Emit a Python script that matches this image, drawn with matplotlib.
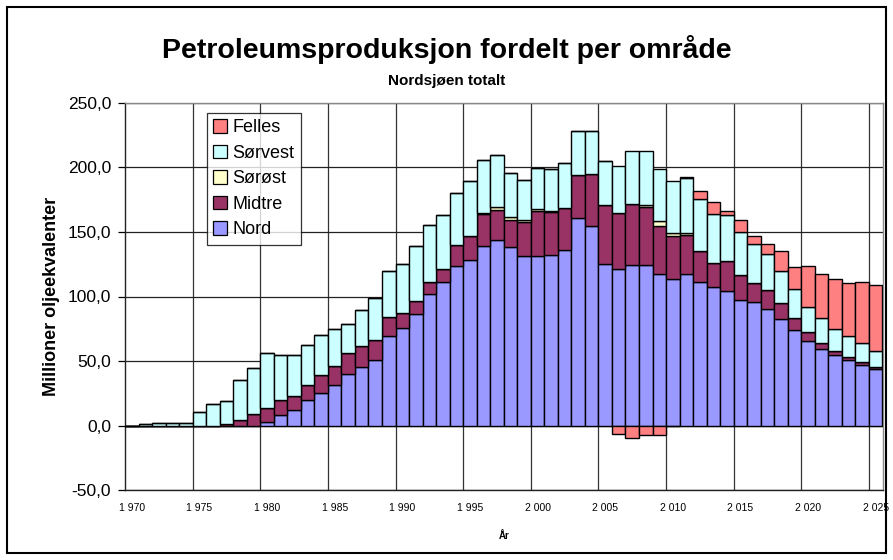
import numpy as np
import matplotlib
matplotlib.use("Agg")
import matplotlib.pyplot as plt
from matplotlib.patches import Rectangle, Patch
from matplotlib.ticker import FuncFormatter

plt.rcParams['font.family'] = ['Liberation Sans', 'DejaVu Sans']

years = list(range(1970, 2026))

nord = [0, 0, 0, 0, 0, 0, 0, 0, 0, 0,
        3.1, 8.3, 12.2, 19.9, 25.3, 31.2, 40.3, 45.2, 50.8, 69.4,
        75.9, 86.2, 101.7, 111.0, 123.4, 128.0, 139.3, 143.5, 138.1, 131.1,
        131.3, 132.1, 136.2, 161.0, 154.8, 125.2, 121.1, 124.1, 124.6, 117.6,
        113.5, 117.2, 111.2, 107.4, 104.3, 97.1, 96.0, 90.3, 82.4, 74.1,
        65.3, 59.1, 54.7, 51.1, 47.0, 43.6]
midtre = [0, 0, 0, 0, 0, 0, 0, 1.0, 4.4, 8.8,
          10.3, 11.3, 10.5, 11.3, 13.7, 14.8, 15.7, 16.7, 15.4, 14.7,
          11.6, 10.6, 9.5, 10.1, 16.2, 18.6, 24.3, 23.2, 20.9, 26.3,
          34.9, 33.3, 32.3, 33.3, 40.0, 45.6, 43.9, 47.3, 44.7, 37.0,
          33.3, 30.2, 23.8, 18.5, 23.4, 19.5, 14.7, 14.5, 12.3, 9.0,
          6.9, 5.1, 3.1, 2.3, 2.1, 1.8]
sorost = [0, 0, 0, 0, 0, 0, 0, 0, 0, 0,
          0, 0, 0, 0, 0, 0, 0, 0, 0, 0,
          0, 0, 0, 0, 0, 0, 1.3, 2.3, 2.3, 2.0,
          1.3, 0.5, 0, 0, 0, 0, 0, 0, 1.3, 3.8,
          2.6, 2.0, 0.5, 0, 0, 0, 0, 0, 0, 0,
          0, 0, 0, 0, 0, 0]
sorvest = [0, 1.0, 2.0, 2.0, 2.0, 10.8, 16.5, 18.2, 30.7, 35.6,
           42.6, 35.1, 32.0, 31.0, 31.0, 28.6, 23.0, 27.9, 32.3, 35.9,
           37.9, 42.3, 44.4, 42.2, 40.5, 42.6, 40.7, 40.3, 34.5, 31.0,
           31.7, 32.8, 34.8, 33.6, 33.5, 34.3, 35.9, 41.2, 41.8, 40.5,
           39.8, 42.3, 40.2, 38.0, 35.1, 33.1, 29.9, 27.9, 25.3, 22.7,
           19.9, 18.9, 17.2, 16.0, 14.7, 12.7]
felles = [0, 0, 0, 0, 0, 0, 0, 0, 0, 0,
          0, 0, 0, 0, 0, 0, 0, 0, 0, 0,
          0, 0, 0, 0, 0, 0, 0, 0, 0, 0,
          0, 0, 0, 0, 0, 0, -6.7, -9.8, -6.9, -6.9,
          -0.6, 0.8, 6.2, 9.5, 3.1, 9.3, 6.0, 8.2, 15.0, 17.1,
          31.6, 34.5, 38.2, 40.8, 47.7, 51.0]

series_names = ["Nord", "Midtre", "Sørøst", "Sørvest", "Felles"]
series_vals = [nord, midtre, sorost, sorvest, felles]
colors = ["#9999FF", "#993366", "#FFFFCC", "#CCFFFF", "#FF8080"]

x_labels = ["1 970", "1 975", "1 980", "1 985", "1 990", "1 995",
            "2 000", "2 005", "2 010", "2 015", "2 020", "2 025"]

fig = plt.figure(figsize=(8.93, 5.60), dpi=100)
ax = fig.add_axes([125/893, 1-490.3/560, (882.5-125)/893, (490.3-102.7)/560])

x = np.array(years)
pos_bottom = np.zeros(len(years))
neg_bottom = np.zeros(len(years))
for name, vals, c in zip(series_names, series_vals, colors):
    v = np.array(vals, dtype=float)
    bottoms = np.where(v >= 0, pos_bottom, neg_bottom)
    ax.bar(x, v, width=1.0, bottom=bottoms, color=c, edgecolor='black',
           linewidth=1.0, zorder=3, label=name)
    pos_bottom = pos_bottom + np.where(v > 0, v, 0)
    neg_bottom = neg_bottom + np.where(v < 0, v, 0)

ax.set_xlim(1969.5, 2025.5)
ax.set_ylim(-50, 250)

ax.set_yticks(np.arange(-50, 251, 50))
ax.yaxis.set_major_formatter(FuncFormatter(lambda v, p: f"{v:.1f}".replace('.', ',')))
ax.grid(axis='y', color='#222222', linewidth=0.9, zorder=0)
for b in np.arange(1974.5, 2025, 5):
    ax.axvline(b, color='#333333', linewidth=0.9, zorder=0)

ax.set_xticks(np.arange(1970, 2026, 5))
ax.set_xticklabels(x_labels, fontsize=7.5)
ax.tick_params(axis='x', length=0, pad=9)
ax.tick_params(axis='y', length=5, width=0.9, direction='out', labelsize=12.5, pad=5)

for s in ['left', 'bottom']:
    ax.spines[s].set_color('#222222')
    ax.spines[s].set_linewidth(1.0)
for s in ['top', 'right']:
    ax.spines[s].set_color('#888888')
    ax.spines[s].set_linewidth(1.0)

ax.set_xlabel("År", fontsize=7, fontweight='bold', labelpad=13)
fig.text(52/893, 1-296/560, "Millioner oljeekvalenter", rotation=90,
         ha='center', va='center', fontsize=13, fontweight='bold')

fig.text(0.5, 1-50/560, "Petroleumsproduksjon fordelt per område",
         ha='center', va='center', fontsize=20.5, fontweight='bold')
fig.text(0.5, 1-81/560, "Nordsjøen totalt",
         ha='center', va='center', fontsize=11, fontweight='bold')

handles = [Patch(facecolor=c, edgecolor='black', linewidth=0.9)
           for c in colors[::-1]]
leg = fig.legend(handles, series_names[::-1], loc='upper left',
                 bbox_to_anchor=(207/893, 1-113/560), fontsize=13,
                 frameon=True, fancybox=False, borderaxespad=0,
                 handlelength=0.75, handleheight=0.75, handletextpad=0.3,
                 labelspacing=0.47, borderpad=0.35)
leg.get_frame().set_edgecolor('black')
leg.get_frame().set_linewidth(0.9)

fig.patches.append(Rectangle((7/893, 7/560), (886-7)/893, (553-7)/560,
                             transform=fig.transFigure, fill=False,
                             edgecolor='black', linewidth=1.5))

fig.savefig("out.png", dpi=100)
